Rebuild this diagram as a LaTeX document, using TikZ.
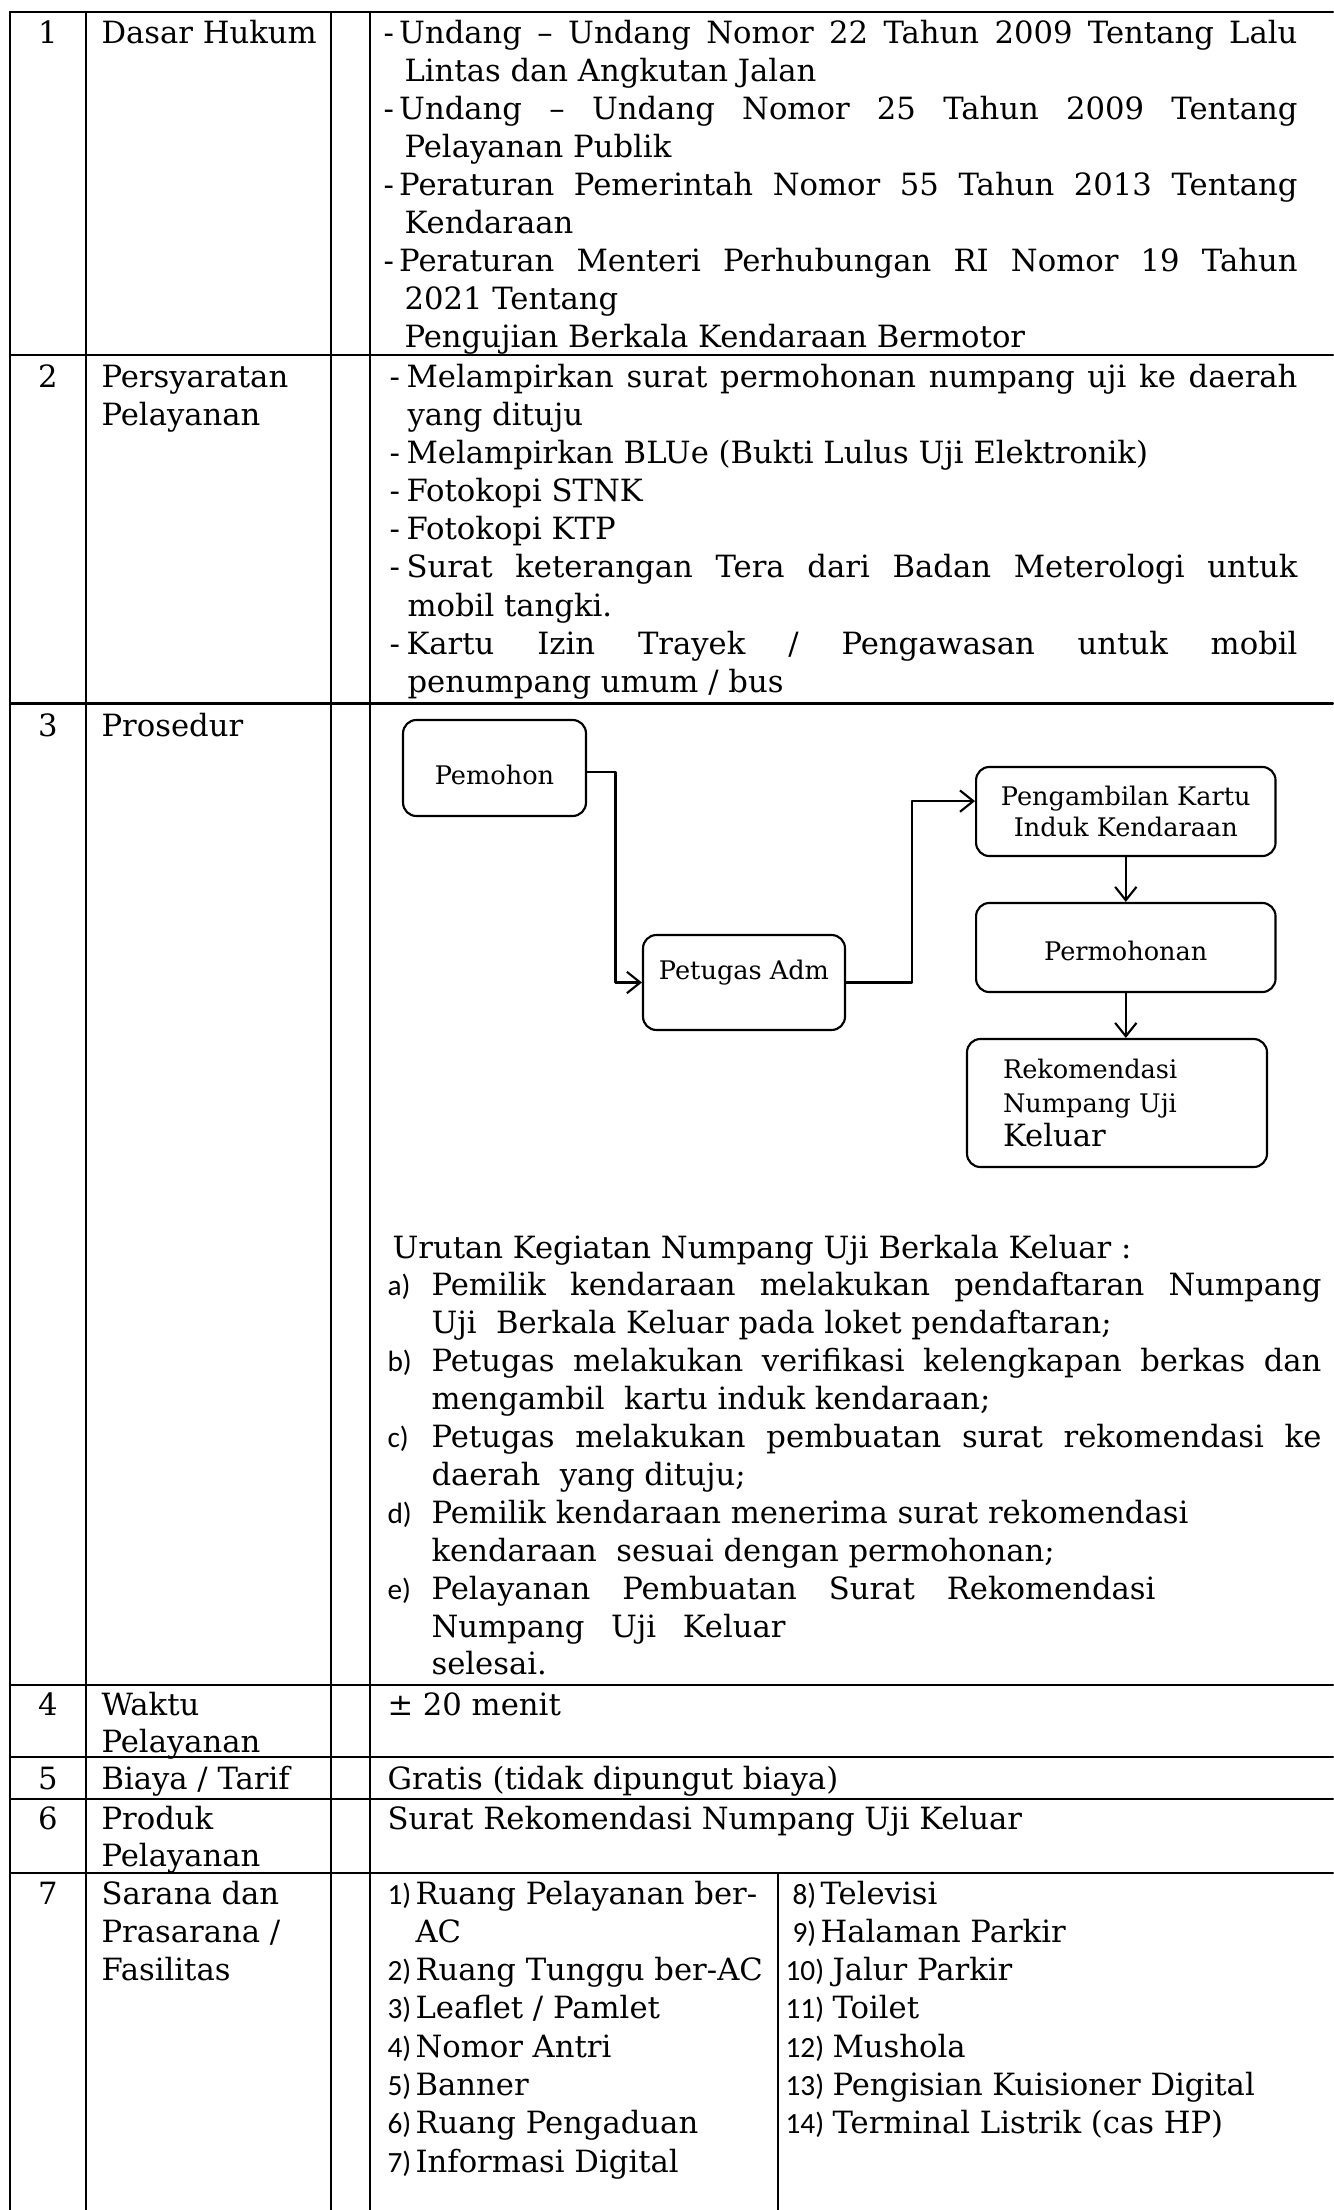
\documentclass[tikz,border=0pt]{standalone}
\usepackage{fontspec}
\setmainfont{DejaVu Serif}
\newfontfamily\numfont{Carlito}
\usetikzlibrary{arrows.meta}
\newcommand{\jst}[2]{\makebox[#1][s]{#2}}

\begin{document}
\begin{tikzpicture}[x=0.375pt, y=-0.375pt, line cap=round, line join=round, font=\fontsize{11.5}{14}\selectfont]
	\tikzset{txt/.style={anchor=base west, inner sep=0pt},
		num/.style={anchor=base, inner sep=0pt},
		itm/.style={anchor=base west, inner sep=0pt, font=\numfont\fontsize{11}{13}\selectfont},
		flow/.style={draw, rounded corners=5pt, line width=0.8pt, align=center, inner sep=0pt, font=\fontsize{9.6}{11.6}\selectfont},
		conn/.style={line width=0.8pt, -{Straight Barb[length=5pt,width=8pt]}},
		grid/.style={line width=0.8pt}}
	\useasboundingbox (0,0) rectangle (1333,2210);
	% table rules
	\foreach \y in {12,355,703.5,1685,1757,1799,1873}
		\draw[grid] (10,\y) -- (1333,\y);
	\foreach \x in {10,86,331,370}
		\draw[grid] (\x,12) -- (\x,2210);
	\draw[grid] (778,1873) -- (778,2210);
	% numbers and row labels
	\foreach \n/\y in {1/44,2/388,3/736,4/1715,5/1789,6/1829,7/1904}
		\node[num] (no\n) at (48,\y) {\n};
	\foreach \y/\t [count=\i] in {44/{Dasar Hukum},388/{Persyaratan},426/{Pelayanan},736/{Prosedur},
		1715/{Waktu},1752/{Pelayanan},1789/{Biaya / Tarif},1829/{Produk},1866/{Pelayanan},
		1904/{Sarana dan},1942/{Prasarana /},1980/{Fasilitas}}
		\node[txt] (lab\i) at (101,\y) {\t};
	% dasar hukum
	\foreach \x/\t [count=\i] in {
		383/{\jst{342.75pt}{-\hspace{2pt}Undang -- Undang Nomor 22 Tahun 2009 Tentang Lalu}},
		404/{Lintas dan Angkutan Jalan},
		383/{\jst{342.75pt}{-\hspace{2pt}Undang -- Undang Nomor 25 Tahun 2009 Tentang}},
		404/{Pelayanan Publik},
		383/{\jst{342.75pt}{-\hspace{2pt}Peraturan Pemerintah Nomor 55 Tahun 2013 Tentang}},
		404/{Kendaraan},
		383/{\jst{342.75pt}{-\hspace{2pt}Peraturan Menteri Perhubungan RI Nomor 19 Tahun}},
		404/{2021 Tentang},
		404/{Pengujian Berkala Kendaraan Bermotor}}
		\node[txt] (dh\i) at (\x,{44+38*(\i-1)}) {\t};
	% persyaratan
	\foreach \x/\t [count=\i] in {
		389/{\jst{340.5pt}{-\hspace{2.5pt}Melampirkan surat permohonan numpang uji ke daerah}},
		407/{yang dituju},
		389/{-\hspace{2.5pt}Melampirkan BLUe (Bukti Lulus Uji Elektronik)},
		389/{-\hspace{2.5pt}Fotokopi STNK},
		389/{-\hspace{2.5pt}Fotokopi KTP},
		389/{\jst{340.5pt}{-\hspace{2.5pt}Surat keterangan Tera dari Badan Meterologi untuk}},
		407/{mobil tangki.},
		389/{\jst{340.5pt}{-\hspace{2.5pt}Kartu Izin Trayek / Pengawasan untuk mobil}},
		407/{penumpang umum / bus}}
		\node[txt] (ps\i) at (\x,{388+38*(\i-1)}) {\t};
	% prosedur
	\node[flow, minimum width=68.6pt, minimum height=36pt, text height=12pt, text depth=0pt] (pemohon) at (494.5,768) {Pemohon};
	\node[flow, minimum width=75.75pt, minimum height=35.6pt, text height=7pt, text depth=9.6pt] (petugas) at (744,982.5) {Petugas Adm};
	\node[flow, minimum width=112.3pt, minimum height=33.4pt] (kartu) at (1125.8,811.5) {Pengambilan Kartu\\Induk Kendaraan};
	\node[flow, minimum width=112.3pt, minimum height=33.4pt, text height=9.4pt, text depth=0pt] (permohonan) at (1125.8,947.5) {Permohonan};
	\node[flow, minimum width=112.5pt, minimum height=48pt, text width=85.5pt, align=left, font=\fontsize{9.6}{12.75}\selectfont] (rekom) at (1117,1103)
		{Rekomendasi\\Numpang Uji\\{\fontsize{11.5}{14}\selectfont Keluar}};
	\draw[conn] ([yshift=-1.5pt]pemohon.east) -- ++(28.5,0) |- (petugas.west);
	\draw[conn] (petugas.east) -- ++(66,0) |- ([yshift=3.9pt]kartu.west);
	\draw[conn] (kartu.south) -- (permohonan.north);
	\draw[conn] (permohonan.south) -- (permohonan.south |- rekom.north);
	% urutan kegiatan
	\node[txt] (urutan) at (392,1258) {Urutan Kegiatan Numpang Uji Berkala Keluar :};
	\foreach \t [count=\i] in {
		{\jst{333.75pt}{Pemilik kendaraan melakukan pendaftaran Numpang}},
		{Uji\ \ Berkala Keluar pada loket pendaftaran;},
		{\jst{333.75pt}{Petugas melakukan verifikasi kelengkapan berkas dan}},
		{mengambil\ \ kartu induk kendaraan;},
		{\jst{333.75pt}{Petugas melakukan pembuatan surat rekomendasi ke}},
		{daerah\ \ yang dituju;},
		{Pemilik kendaraan menerima surat rekomendasi},
		{kendaraan\ \ sesuai dengan permohonan;},
		{\jst{271.5pt}{Pelayanan Pembuatan Surat Rekomendasi}},
		{\jst{132.75pt}{Numpang Uji Keluar}},
		{selesai.}}
		\node[txt] (ur\i) at (431,{1258+37.9*\i}) {\t};
	\foreach \l/\k in {a/1,b/3,c/5,d/7,e/9}
		\node[itm] (lb\l) at (387,{1258+37.9*\k}) {\l)};
	% waktu, biaya, produk
	\node[txt] (waktu) at (387,1715) {\textpm{} 20 menit};
	\node[txt] (biaya) at (387,1789) {Gratis (tidak dipungut biaya)};
	\node[txt] (produk) at (387,1829) {Surat Rekomendasi Numpang Uji Keluar};
	% sarana
	\foreach \n/\k in {1/0,2/2,3/3,4/4,5/5,6/6,7/7}
		\node[itm] (sn\n) at (387,{1904+38.3*\k}) {\n)};
	\foreach \t [count=\i from 0] in {Ruang Pelayanan ber-,AC,Ruang Tunggu ber-AC,Leaflet / Pamlet,
		Nomor Antri,Banner,Ruang Pengaduan,Informasi Digital}
		\node[txt] (sl\i) at (415,{1904+38.3*\i}) {\t};
	\foreach \n/\x/\d/\t [count=\i from 0] in {8/792/28/Televisi,9/792/28/Halaman Parkir,10/785/47/Jalur Parkir,
		11/785/47/Toilet,12/785/47/Mushola,13/785/47/Pengisian Kuisioner Digital,14/785/47/Terminal Listrik (cas HP)}
		{\node[itm] (sn\n) at (\x,{1904+38.3*\i}) {\n)};
		\node[txt] (sr\n) at ({\x+\d},{1904+38.3*\i}) {\t};}
\end{tikzpicture}
\end{document}
